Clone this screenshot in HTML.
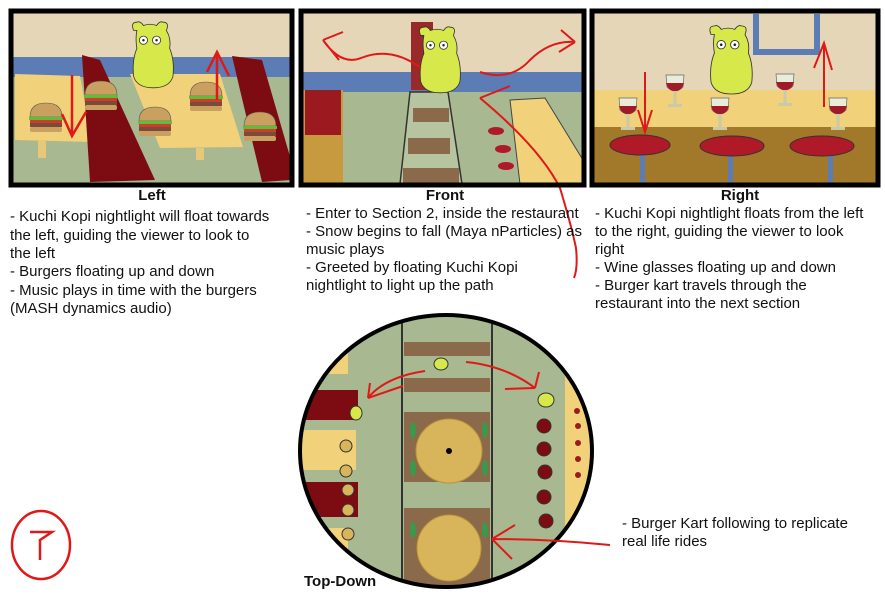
<!DOCTYPE html>
<html><head><meta charset="utf-8"><style>
html,body{margin:0;padding:0;background:#fff;width:885px;height:595px;overflow:hidden}
svg{display:block}
text{font-family:"Liberation Sans",sans-serif;font-size:15px;fill:#111}
.b{font-weight:bold}
</style></head><body>
<svg width="885" height="595" viewBox="0 0 885 595" xmlns="http://www.w3.org/2000/svg">
<defs>
<g id="bear">
<path d="M-20,-30 q-4,-10 4,-10 q4,-2 8,4 q8,-3 16,0 q4,-6 8,-4 q8,0 4,10 q6,10 4,22 q6,14 4,34 q-4,14 -24,14 q-20,0 -24,-14 q-2,-20 4,-34 q-2,-12 0,-22z" fill="#d6e84a" stroke="#333" stroke-width="1"/>
<circle cx="-8" cy="-18" r="5" fill="#fff" stroke="#333"/><circle cx="8" cy="-18" r="5" fill="#fff" stroke="#333"/>
<circle cx="-8" cy="-18" r="1.5" fill="#222"/><circle cx="8" cy="-18" r="1.5" fill="#222"/>
</g>
<g id="burger">
<path d="M-16,0 q0,-14 16,-14 q16,0 16,14z" fill="#c9a060" stroke="#555" stroke-width=".6"/>
<rect x="-17" y="0" width="34" height="3" fill="#5cbf3a"/>
<rect x="-16" y="3" width="32" height="3" fill="#d23a2a"/>
<rect x="-16" y="6" width="32" height="4" fill="#7a4a3a"/>
<rect x="-16" y="10" width="32" height="5" rx="2" fill="#c9a060"/>
</g>
<g id="glass">
<path d="M-9,-14 h18 l-1,12 q-8,8 -16,0z" fill="#e8ecd8" stroke="#666" stroke-width=".7"/>
<path d="M-9,-6 h18 q-2,8 -9,8 q-7,0 -9,-8z" fill="#a01a28"/>
<rect x="-1.5" y="2" width="3" height="14" fill="#c8caa8"/>
<rect x="-7" y="15" width="14" height="3" fill="#c8caa8"/>
</g>
</defs>

<!-- Panel 1 -->
<rect x="13" y="12" width="278" height="172" fill="#e4d6b6"/>
<rect x="13" y="57" width="278" height="20" fill="#5b7cb4"/>
<rect x="13" y="77" width="278" height="107" fill="#a8b890"/>
<polygon points="15,74 80,76 92,142 15,140" fill="#f1d27a"/>
<polygon points="130,74 220,74 243,147 160,148" fill="#f1d27a"/>
<rect x="38" y="140" width="8" height="18" fill="#e6c878"/>
<rect x="196" y="148" width="8" height="12" fill="#e6c878"/>
<polygon points="82,55 100,60 155,180 90,182" fill="#7d0c12"/>
<polygon points="232,56 262,60 291,160 291,180 262,182 240,90" fill="#7d0c12"/>
<use href="#bear" transform="translate(150,55) scale(0.82)"/>
<use href="#burger" x="46" y="117"/>
<use href="#burger" x="101" y="95"/>
<use href="#burger" x="155" y="121"/>
<use href="#burger" x="206" y="96"/>
<use href="#burger" x="260" y="126"/>
<path d="M72,75 V136 M62,114 L72,136 L86,112" stroke="#e01818" stroke-width="2.5" fill="none"/>
<path d="M217,100 V52 M207,72 L217,52 L229,76" stroke="#e01818" stroke-width="2.5" fill="none"/>
<rect x="11" y="11" width="281" height="174" fill="none" stroke="#000" stroke-width="5"/>

<!-- Panel 2 -->
<rect x="303" y="12" width="280" height="172" fill="#e4d6b6"/>
<rect x="303" y="72" width="280" height="22" fill="#5b7cb4"/>
<rect x="303" y="92" width="280" height="92" fill="#a8b890"/>
<rect x="411" y="22" width="22" height="68" fill="#9a2a2a"/>
<polygon points="410,92 448,92 462,184 400,184" fill="#b6c4a0" stroke="#333" stroke-width="1.5"/>
<rect x="413" y="108" width="36" height="14" fill="#8a6a4a"/>
<rect x="408" y="138" width="42" height="16" fill="#8a6a4a"/>
<rect x="403" y="168" width="56" height="16" fill="#8a6a4a"/>
<rect x="303" y="90" width="40" height="94" fill="#c89a40"/>
<rect x="305" y="90" width="36" height="45" fill="#9a1a20"/>
<polygon points="510,100 545,98 583,160 583,184 520,184" fill="#f1d27a" stroke="#444" stroke-width="1"/>
<ellipse cx="496" cy="131" rx="8" ry="4" fill="#b01a28"/>
<ellipse cx="503" cy="149" rx="8" ry="4" fill="#b01a28"/>
<ellipse cx="506" cy="166" rx="8" ry="4" fill="#b01a28"/>
<use href="#bear" transform="translate(437,60) scale(0.82)"/>
<path d="M421,68 q-30,-22 -60,-10 q-20,8 -38,-18 M323,40 l20,-8 M323,40 l16,20" stroke="#e01818" stroke-width="2" fill="none"/>
<path d="M480,72 q30,10 50,-12 q20,-20 45,-18 M575,42 l-14,-12 M575,42 l-16,10" stroke="#e01818" stroke-width="2" fill="none"/>
<path d="M480,98 l30,-12 M480,98 q60,50 80,90 q12,40 16,60 q2,20 -2,30" stroke="#e01818" stroke-width="2" fill="none"/>
<rect x="301" y="11" width="283" height="174" fill="none" stroke="#000" stroke-width="5"/>

<!-- Panel 3 -->
<rect x="594" y="12" width="283" height="172" fill="#e4d6b6"/>
<rect x="594" y="90" width="283" height="38" fill="#f1d27a"/>
<rect x="594" y="127" width="283" height="57" fill="#a2782a"/>
<path d="M756,14 V52 H817 V14" stroke="#5b7cb4" stroke-width="6" fill="none"/>
<use href="#bear" transform="translate(728,60) scale(0.85)"/>
<use href="#glass" x="628" y="112"/><use href="#glass" x="675" y="89"/>
<use href="#glass" x="720" y="112"/><use href="#glass" x="785" y="88"/>
<use href="#glass" x="838" y="112"/>
<rect x="640" y="150" width="5" height="34" fill="#5b7cb4"/>
<rect x="728" y="150" width="5" height="34" fill="#5b7cb4"/>
<rect x="828" y="150" width="5" height="34" fill="#5b7cb4"/>
<ellipse cx="640" cy="145" rx="30" ry="10" fill="#b01a28" stroke="#333"/>
<ellipse cx="732" cy="146" rx="32" ry="10" fill="#b01a28" stroke="#333"/>
<ellipse cx="822" cy="146" rx="32" ry="10" fill="#b01a28" stroke="#333"/>
<path d="M645,72 V132 M638,110 L645,132 L652,110" stroke="#e01818" stroke-width="2" fill="none"/>
<path d="M824,107 V43 M814,68 L824,43 L832,70" stroke="#e01818" stroke-width="2" fill="none"/>
<rect x="592" y="11" width="286" height="174" fill="none" stroke="#000" stroke-width="5"/>

<!-- Text -->
<text x="152" y="200" class="b" text-anchor="middle">Left</text>
<text x="10" y="221">- Kuchi Kopi nightlight will float towards</text>
<text x="10" y="240">the left, guiding the viewer to look to</text>
<text x="10" y="258">the left</text>
<text x="10" y="276">- Burgers floating up and down</text>
<text x="10" y="295">- Music plays in time with the burgers</text>
<text x="10" y="313">(MASH dynamics audio)</text>

<text x="445" y="200" class="b" text-anchor="middle">Front</text>
<text x="306" y="218">- Enter to Section 2, inside the restaurant</text>
<text x="306" y="236">- Snow begins to fall (Maya nParticles) as</text>
<text x="306" y="254">music plays</text>
<text x="306" y="272">- Greeted by floating Kuchi Kopi</text>
<text x="306" y="290">nightlight to light up the path</text>

<text x="740" y="200" class="b" text-anchor="middle">Right</text>
<text x="595" y="218">- Kuchi Kopi nightlight floats from the left</text>
<text x="595" y="236"> to the right, guiding the viewer to look</text>
<text x="595" y="254">right</text>
<text x="595" y="272">- Wine glasses floating up and down</text>
<text x="595" y="290">- Burger kart travels through the</text>
<text x="595" y="308">restaurant into the next section</text>

<!-- Top-down circle -->
<clipPath id="cc"><ellipse cx="446" cy="451" rx="146" ry="136"/></clipPath>
<g clip-path="url(#cc)">
<rect x="298" y="314" width="296" height="274" fill="#a8b890"/>
<rect x="298" y="314" width="50" height="60" fill="#f1d27a"/>
<rect x="298" y="390" width="60" height="30" fill="#7d0c12"/>
<rect x="298" y="430" width="58" height="40" fill="#f1d27a"/>
<rect x="298" y="482" width="60" height="35" fill="#7d0c12"/>
<rect x="298" y="528" width="50" height="60" fill="#f1d27a"/>
<rect x="565" y="375" width="30" height="200" fill="#f1d27a"/>
<rect x="402" y="314" width="90" height="274" fill="#a8b890" stroke="#333" stroke-width="2"/>
<rect x="404" y="342" width="86" height="14" fill="#8a6a4a"/>
<rect x="404" y="378" width="86" height="14" fill="#8a6a4a"/>
<rect x="404" y="412" width="86" height="70" fill="#8a6a4a"/>
<rect x="404" y="508" width="86" height="80" fill="#8a6a4a"/>
<ellipse cx="449" cy="451" rx="33" ry="32" fill="#d8b45a" stroke="#b8943a"/>
<circle cx="449" cy="451" r="3" fill="#000"/>
<ellipse cx="449" cy="548" rx="32" ry="33" fill="#d8b45a" stroke="#b8943a"/>
<ellipse cx="413" cy="430" rx="3" ry="8" fill="#3a9a4a"/><ellipse cx="485" cy="430" rx="3" ry="8" fill="#3a9a4a"/>
<ellipse cx="413" cy="468" rx="3" ry="8" fill="#3a9a4a"/><ellipse cx="485" cy="468" rx="3" ry="8" fill="#3a9a4a"/>
<ellipse cx="413" cy="530" rx="3" ry="8" fill="#3a9a4a"/><ellipse cx="485" cy="530" rx="3" ry="8" fill="#3a9a4a"/>
<ellipse cx="441" cy="364" rx="7" ry="6" fill="#d6e84a" stroke="#333"/>
<ellipse cx="546" cy="400" rx="8" ry="7" fill="#d6e84a" stroke="#333"/>
<ellipse cx="356" cy="413" rx="6" ry="7" fill="#d6e84a" stroke="#333"/>
<g fill="#7d0c12" stroke="#333"><circle cx="544" cy="426" r="7"/><circle cx="544" cy="449" r="7"/><circle cx="545" cy="472" r="7"/><circle cx="544" cy="497" r="7"/><circle cx="546" cy="521" r="7"/></g>
<g fill="#d8b45a" stroke="#333"><circle cx="346" cy="446" r="6"/><circle cx="346" cy="471" r="6"/><circle cx="348" cy="490" r="6"/><circle cx="348" cy="510" r="6"/><circle cx="348" cy="534" r="6"/></g>
<g fill="#9a1a20"><circle cx="577" cy="411" r="3"/><circle cx="578" cy="426" r="3"/><circle cx="578" cy="443" r="3"/><circle cx="578" cy="459" r="3"/><circle cx="578" cy="475" r="3"/></g>
</g>
<ellipse cx="446" cy="451" rx="146" ry="136" fill="none" stroke="#000" stroke-width="4"/>
<path d="M425,371 q-40,6 -57,27 M368,398 l2,-15 M368,398 l35,-12" stroke="#e01818" stroke-width="2" fill="none"/>
<path d="M466,362 q40,4 69,26 M535,388 l4,-16 M535,388 l-30,1" stroke="#e01818" stroke-width="2" fill="none"/>
<path d="M610,545 q-60,-6 -118,-6 M492,539 l23,-14 M492,539 l20,20" stroke="#e01818" stroke-width="2" fill="none"/>
<text x="304" y="586" class="b">Top-Down</text>
<text x="622" y="528">- Burger Kart following to replicate</text>
<text x="622" y="546">real life rides</text>
<ellipse cx="41" cy="545" rx="29" ry="34" fill="none" stroke="#e01818" stroke-width="2.5"/>
<path d="M30,532 h22 l-12,8 v20" stroke="#e01818" stroke-width="2.5" fill="none"/>
</svg>
</body></html>
